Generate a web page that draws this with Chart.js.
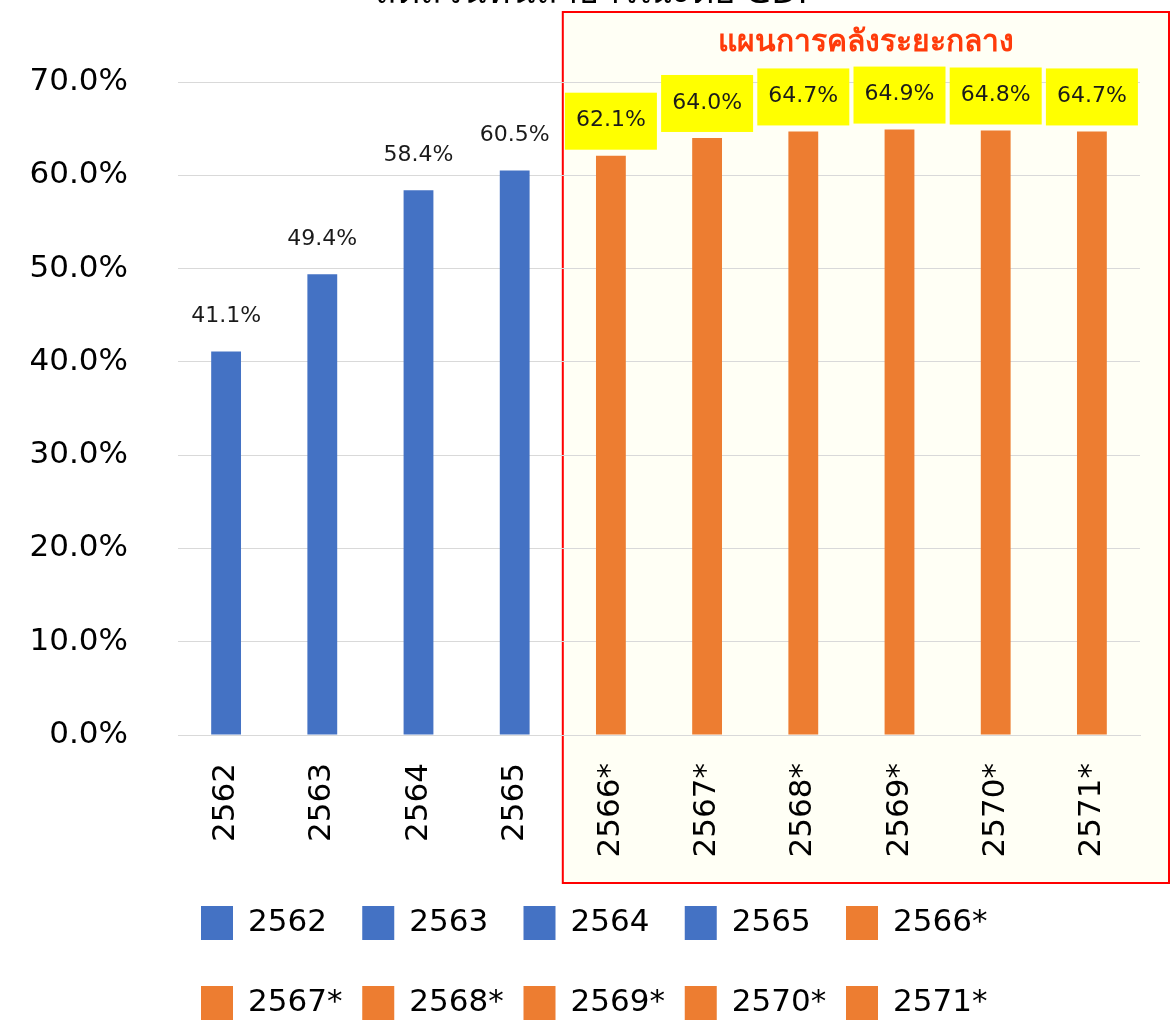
<!DOCTYPE html>
<html>
<head>
<meta charset="utf-8">
<script src="https://cdn.jsdelivr.net/npm/chart.js@4"></script>
<style>
  html, body { margin: 0; padding: 0; background: #fff; }
  #debtChart { display: block; }
</style>
</head>
<body>
<canvas id="debtChart" width="1171" height="1022"></canvas>
<script>
"use strict";

// ปีงบประมาณ (* = ประมาณการตามแผนการคลังระยะปานกลาง)
const years = ["2562", "2563", "2564", "2565", "2566*", "2567*", "2568*", "2569*", "2570*", "2571*"];
const debtRatio = [41.1, 49.4, 58.4, 60.5, 62.1, 64.0, 64.7, 64.9, 64.8, 64.7];
const yTicks = [0, 10, 20, 30, 40, 50, 60, 70];

const chartTitle = "สัดส่วนหนี้สาธารณะต่อ GDP";
const planTitle = "แผนการคลังระยะกลาง";

const BLUE = "#4472C4";
const ORANGE = "#ED7D31";
const FONT = "'Noto Sans', 'DejaVu Sans', sans-serif";
const NUM_FONT = "'DejaVu Sans', sans-serif";

const isPlan = (label) => label.endsWith("*");
const barColors = years.map((y) => (isPlan(y) ? ORANGE : BLUE));
const firstPlan = years.findIndex(isPlan);

// กรอบพื้นหลังช่วงปีที่เป็นแผน
const planBand = {
  id: "planBand",
  beforeDraw(chart) {
    const { ctx, scales: { x } } = chart;
    const left = (x.getPixelForValue(firstPlan - 1) + x.getPixelForValue(firstPlan)) / 2;
    const right = chart.width - 2;
    const top = 12, bottom = 883;
    ctx.save();
    ctx.fillStyle = "#FFFFF5";
    ctx.fillRect(left, top, right - left, bottom - top);
    ctx.strokeStyle = "#FF0000";
    ctx.lineWidth = 2;
    ctx.strokeRect(left, top, right - left, bottom - top);
    ctx.fillStyle = "#FF3B0A";
    ctx.font = "bold 30px " + FONT;
    ctx.textAlign = "center";
    ctx.textBaseline = "middle";
    ctx.fillText(planTitle, (left + right) / 2, 42);
    // หัวเรื่องด้านบน (ถูกตัดขอบ)
    ctx.fillStyle = "#000";
    ctx.font = "36px " + FONT;
    ctx.textBaseline = "alphabetic";
    ctx.fillText(chartTitle, 597, 3);
    ctx.restore();
  },
};

// ค่าบนแท่ง — ปีที่เป็นแผนมีกล่องสีเหลือง
const valueLabels = {
  id: "valueLabels",
  afterDatasetsDraw(chart) {
    const { ctx } = chart;
    const meta = chart.getDatasetMeta(0);
    ctx.save();
    ctx.font = "22px " + NUM_FONT;
    ctx.textAlign = "center";
    ctx.textBaseline = "middle";
    meta.data.forEach((bar, i) => {
      const text = debtRatio[i].toFixed(1) + "%";
      const cy = bar.y - 35;
      if (isPlan(years[i])) {
        ctx.fillStyle = "#FFFF00";
        ctx.fillRect(bar.x - 46, cy - 28, 92, 57);
      }
      ctx.fillStyle = "#1a1a1a";
      ctx.fillText(text, bar.x, cy);
    });
    ctx.restore();
  },
};

// คำอธิบายสัญลักษณ์ 2 แถว แถวละ 5 รายการ
const gridLegend = {
  id: "gridLegend",
  afterDraw(chart) {
    const { ctx } = chart;
    ctx.save();
    ctx.font = "31px " + NUM_FONT;
    ctx.textAlign = "left";
    ctx.textBaseline = "middle";
    years.forEach((y, i) => {
      const col = i % 5, row = Math.floor(i / 5);
      const x0 = 201 + col * 161.25;
      const cy = 923 + row * 80;
      ctx.fillStyle = barColors[i];
      ctx.fillRect(x0, cy - 17, 32, 34);
      ctx.fillStyle = "#000";
      ctx.fillText(y, x0 + 47, cy);
    });
    ctx.restore();
  },
};

new Chart(document.getElementById("debtChart"), {
  type: "bar",
  data: {
    labels: years,
    datasets: [{
      data: debtRatio,
      backgroundColor: barColors,
      barPercentage: 0.62,
      categoryPercentage: 0.5,
    }],
  },
  options: {
    responsive: false,
    devicePixelRatio: 1,
    animation: false,
    layout: { padding: { top: 82, right: 31, left: 0, bottom: 0 } },
    plugins: { legend: { display: false }, tooltip: { enabled: false } },
    scales: {
      x: {
        grid: { display: false, drawTicks: false },
        border: { display: true, color: "#D9D9D9", width: 1 },
        ticks: {
          color: "#000",
          font: { family: NUM_FONT, size: 31 },
          minRotation: 90,
          maxRotation: 90,
          padding: 28,
        },
        afterFit: (s) => { s.height = 287; },
      },
      y: {
        min: 0,
        max: 70,
        afterBuildTicks: (s) => { s.ticks = yTicks.map((v) => ({ value: v })); },
        grid: { color: "#D9D9D9", drawTicks: false },
        border: { display: false },
        ticks: {
          color: "#000",
          font: { family: NUM_FONT, size: 31 },
          padding: 50,
          callback: (v) => Number(v).toFixed(1) + "%",
        },
        afterFit: (s) => { s.width = 178; },
      },
    },
  },
  plugins: [planBand, valueLabels, gridLegend],
});
</script>
</body>
</html>
